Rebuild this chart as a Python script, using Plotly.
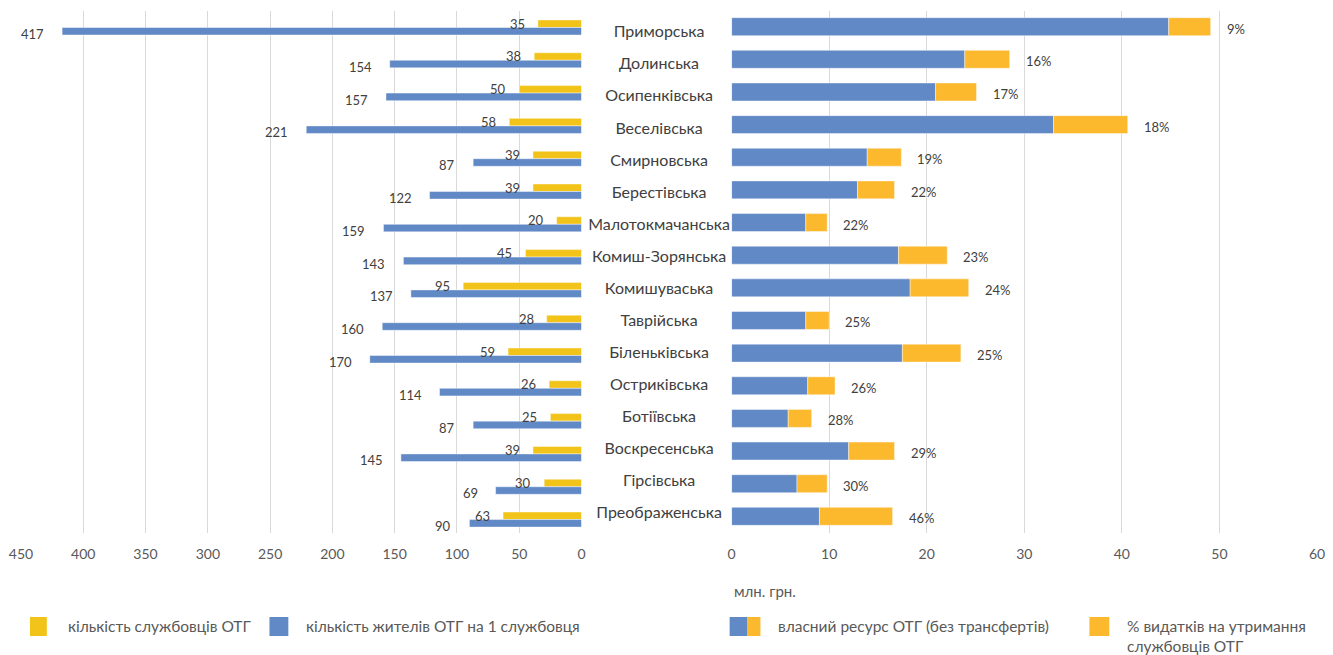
import plotly.graph_objects as go

categories = ["Приморська", "Долинська", "Осипенківська", "Веселівська", "Смирновська",
              "Берестівська", "Малотокмачанська", "Комиш-Зорянська", "Комишуваська",
              "Таврійська", "Біленьківська", "Остриківська", "Ботіївська",
              "Воскресенська", "Гірсівська", "Преображенська"]
staff_count = [35, 38, 50, 58, 39, 39, 20, 45, 95, 28, 59, 26, 25, 39, 30, 63]
residents_per_staff = [417, 154, 157, 221, 87, 122, 159, 143, 137, 160, 170, 114, 87, 145, 69, 90]
own_resource_part = [44.8, 23.9, 20.9, 33.0, 13.9, 12.9, 7.6, 17.1, 18.3, 7.6, 17.5, 7.8, 5.8, 12.0, 6.7, 9.0]
staff_cost_part = [4.3, 4.6, 4.2, 7.6, 3.5, 3.8, 2.2, 5.0, 6.0, 2.4, 6.0, 2.8, 2.4, 4.7, 3.1, 7.5]
pct_labels = ["9%", "16%", "17%", "18%", "19%", "22%", "22%", "23%", "24%", "25%",
              "25%", "26%", "28%", "29%", "30%", "46%"]
left_ticks = [0, 50, 100, 150, 200, 250, 300, 350, 400, 450]
right_ticks = [0, 10, 20, 30, 40, 50, 60]

BLUE = "#6089C6"
GOLD = "#F2C318"
ORANGE = "#FDB92E"
TXT = "#404040"
TICK = "#595959"
GRID = "#D9D9D9"
FONT = "Lato"
EDGE = dict(color="rgba(255,255,255,0.55)", width=0.8)

W, H = 1333, 655
ML, MR, MT, MB = 21, 8, 11, 122
PW, PH = W - ML - MR, H - MT - MB


def px(x):
    return (x - ML) / PW


def py(y):
    return 1 - (y - MT) / PH


fig = go.Figure()

# left: grouped bars
fig.add_trace(go.Bar(y=categories, x=staff_count, orientation="h",
                     marker=dict(color=GOLD, line=EDGE),
                     xaxis="x", yaxis="y", showlegend=False, name="кількість службовців ОТГ"))
fig.add_trace(go.Bar(y=categories, x=residents_per_staff, orientation="h",
                     marker=dict(color=BLUE, line=EDGE),
                     xaxis="x", yaxis="y", showlegend=False,
                     name="кількість жителів ОТГ на 1 службовця"))

# right: stacked bars (base)
fig.add_trace(go.Bar(y=categories, x=own_resource_part, orientation="h",
                     marker=dict(color=BLUE, line=EDGE),
                     xaxis="x2", yaxis="y2", width=0.55, offset=-0.275, showlegend=False))
fig.add_trace(go.Bar(y=categories, x=staff_cost_part, base=own_resource_part, orientation="h",
                     marker=dict(color=ORANGE, line=EDGE), xaxis="x2", yaxis="y2",
                     width=0.55, offset=-0.275, showlegend=False))

# category labels
fig.add_trace(go.Scatter(y=categories, x=[0] * len(categories), text=categories, mode="text",
                         textposition="middle center", cliponaxis=False,
                         textfont=dict(family=FONT, size=16, color=TXT),
                         xaxis="x3", yaxis="y3", showlegend=False, hoverinfo="skip"))

annotations = []
for c, v in zip(categories, staff_count):
    annotations.append(dict(x=v, y=c, xref="x", yref="y", text=str(v), showarrow=False,
                            xanchor="right", xshift=-11, yshift=4,
                            font=dict(family=FONT, size=13, color=TXT)))
for c, v in zip(categories, residents_per_staff):
    annotations.append(dict(x=v, y=c, xref="x", yref="y", text=str(v), showarrow=False,
                            xanchor="right", xshift=-16, yshift=-6.5,
                            font=dict(family=FONT, size=13, color=TXT)))
for c, a, b, t in zip(categories, own_resource_part, staff_cost_part, pct_labels):
    annotations.append(dict(x=a + b, y=c, xref="x2", yref="y2", text=t, showarrow=False,
                            xanchor="left", xshift=14, yshift=-2,
                            font=dict(family=FONT, size=13, color=TXT)))

annotations.append(dict(x=px(736), y=py(591), xref="paper", yref="paper", text="млн. грн.",
                        showarrow=False, xanchor="left", yanchor="middle",
                        font=dict(family=FONT, size=15, color=TICK)))

# manual legend
shapes = []
leg_y0, leg_y1 = py(617), py(636)
leg_items = [
    ([(30, 47, GOLD)], 66, "кількість службовців ОТГ"),
    ([(271, 290, BLUE)], 306, "кількість жителів ОТГ на 1 службовця"),
    ([(734, 752, BLUE), (752, 765, ORANGE)], 781, "власний ресурс ОТГ (без трансфертів)"),
    ([(1096, 1116, ORANGE)], 1132, "% видатків на утримання<br>службовців ОТГ"),
]
for rects, tx, label in leg_items:
    for x0, x1, col in rects:
        shapes.append(dict(type="rect", xref="paper", yref="paper", x0=px(x0), x1=px(x1),
                           y0=leg_y0, y1=leg_y1, fillcolor=col, line=dict(width=0)))
    annotations.append(dict(x=px(tx), y=py(615), xref="paper", yref="paper", text=label,
                            showarrow=False, xanchor="left", yanchor="top", align="left",
                            font=dict(family=FONT, size=15.5, color=TICK)))

axis_common = dict(showgrid=True, gridcolor=GRID, gridwidth=1, zeroline=False, showline=False,
                   tickfont=dict(family=FONT, size=14, color=TICK), ticks="",
                   ticklabelstandoff=11)

fig.update_layout(
    width=W, height=H,
    margin=dict(l=ML, r=MR, t=MT, b=MB, pad=0),
    paper_bgcolor="white", plot_bgcolor="white",
    barmode="group", bargap=0.54, bargroupgap=0,
    xaxis=dict(domain=[0, px(585)], range=[450, 0], tickvals=left_ticks, anchor="y", **axis_common),
    yaxis=dict(domain=[0, 1], type="category", categoryorder="array", categoryarray=categories,
               range=[15.41, -0.503], showticklabels=False, showgrid=False, zeroline=False,
               anchor="x"),
    xaxis2=dict(domain=[px(736), 1], range=[0, 60], tickvals=right_ticks, anchor="y2", **axis_common),
    yaxis2=dict(domain=[0, 1], type="category", categoryorder="array", categoryarray=categories,
                range=[15.51, -0.48], showticklabels=False, showgrid=False, zeroline=False,
                anchor="x2"),
    xaxis3=dict(domain=[px(613), px(713)], range=[-1, 1], visible=False, anchor="y3"),
    yaxis3=dict(domain=[0, 1], type="category", categoryorder="array", categoryarray=categories,
                range=[15.58, -0.695], visible=False, anchor="x3"),
    annotations=annotations,
    shapes=shapes,
    font=dict(family=FONT, color=TICK),
)

fig.write_html("out.html", config={"displayModeBar": False},
               post_script="document.body.style.margin='0px';")
